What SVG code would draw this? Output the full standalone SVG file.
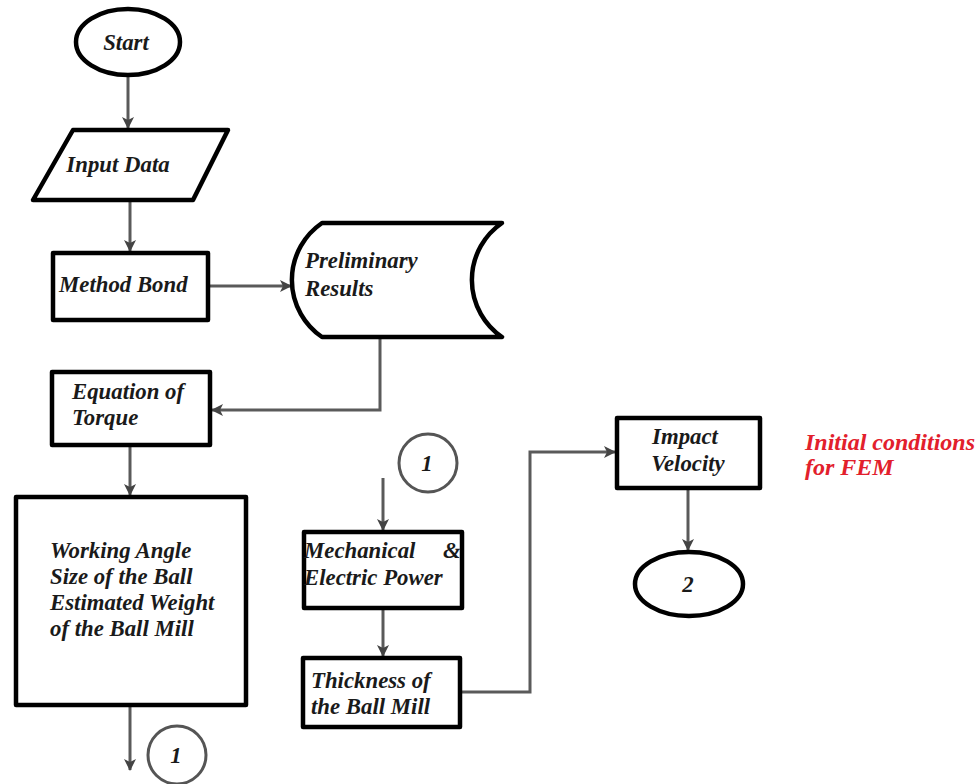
<svg xmlns="http://www.w3.org/2000/svg" width="979" height="784" viewBox="0 0 979 784">
<defs>
<style>
.node{fill:#fff;stroke:#000;stroke-width:4.5;stroke-linejoin:round}
.conn{fill:none;stroke:#5a5a5a;stroke-width:3}
.t{font-family:"Liberation Serif","Times New Roman",serif;font-style:italic;font-weight:bold;font-size:22.8px;fill:#1a1a1a}
.red{font-family:"Liberation Serif","Times New Roman",serif;font-style:italic;font-weight:bold;font-size:24px;fill:#e2202c}
</style>
<marker id="arr" viewBox="0 0 12 12" refX="11" refY="6" markerWidth="12" markerHeight="12" markerUnits="userSpaceOnUse" orient="auto">
<path d="M0,0 L12,6 L0,12 L3,6 Z" fill="#444"/>
</marker>
</defs>
<rect width="979" height="784" fill="#fff"/>
<g id="connectors">
<line class="conn" x1="128" y1="75" x2="128" y2="128" marker-end="url(#arr)"/>
<line class="conn" x1="130" y1="200" x2="130" y2="251" marker-end="url(#arr)"/>
<line class="conn" x1="208" y1="286" x2="291" y2="286" marker-end="url(#arr)"/>
<polyline class="conn" points="380,337 380,410 212,410" marker-end="url(#arr)"/>
<line class="conn" x1="130" y1="446" x2="130" y2="495" marker-end="url(#arr)"/>
<line class="conn" x1="130" y1="706" x2="130" y2="770" marker-end="url(#arr)"/>
<line class="conn" x1="383" y1="478" x2="383" y2="530" marker-end="url(#arr)"/>
<line class="conn" x1="383" y1="609" x2="383" y2="656" marker-end="url(#arr)"/>
<polyline class="conn" points="461,692 530,692 530,452 615,452" marker-end="url(#arr)"/>
<line class="conn" x1="688" y1="489" x2="688" y2="550" marker-end="url(#arr)"/>
</g>
<g id="start">
<ellipse class="node" cx="128" cy="42" rx="52" ry="33"/>
<text class="t" x="126" y="50" text-anchor="middle">Start</text>
</g>
<g id="input-data">
<polygon class="node" points="73,130 228,130 193,200 33,200"/>
<text class="t" x="118" y="172" text-anchor="middle">Input Data</text>
</g>
<g id="method-bond">
<rect class="node" x="53" y="253" width="155" height="67"/>
<text class="t" x="59" y="292">Method Bond</text>
</g>
<g id="preliminary-results">
<path class="node" d="M322,223 L502,223 A69,69 0 0 0 502,337 L322,337 A69,69 0 0 1 322,223 Z"/>
<text class="t" x="305" y="268">Preliminary</text>
<text class="t" x="305" y="296">Results</text>
</g>
<g id="equation-torque">
<rect class="node" x="52" y="372" width="158" height="73"/>
<text class="t" x="72" y="399">Equation of</text>
<text class="t" x="72" y="425">Torque</text>
</g>
<g id="working-angle">
<rect class="node" x="16" y="497" width="230" height="208"/>
<text class="t" x="50" y="558">Working Angle</text>
<text class="t" x="50" y="584">Size of the Ball</text>
<text class="t" x="50" y="610">Estimated Weight</text>
<text class="t" x="50" y="636">of the Ball Mill</text>
</g>
<g id="connector-1-bottom">
<circle cx="177" cy="755" r="29" fill="#fff" stroke="#555" stroke-width="3"/>
<text class="t" x="176" y="763" text-anchor="middle">1</text>
</g>
<g id="connector-1-top">
<circle cx="428" cy="463" r="29" fill="#fff" stroke="#555" stroke-width="3"/>
<text class="t" x="427" y="471" text-anchor="middle">1</text>
</g>
<g id="mechanical-power">
<rect class="node" x="304" y="532" width="158" height="76"/>
<text class="t" x="304" y="558">Mechanical</text>
<text class="t" x="443" y="558">&amp;</text>
<text class="t" x="304" y="585">Electric Power</text>
</g>
<g id="thickness">
<rect class="node" x="303" y="658" width="157" height="69"/>
<text class="t" x="311" y="688">Thickness of</text>
<text class="t" x="311" y="714">the Ball Mill</text>
</g>
<g id="impact-velocity">
<rect class="node" x="617" y="418" width="143" height="70"/>
<text class="t" x="685" y="444" text-anchor="middle">Impact</text>
<text class="t" x="688" y="471" text-anchor="middle">Velocity</text>
</g>
<g id="end-2">
<ellipse class="node" cx="689" cy="584" rx="54" ry="32"/>
<text class="t" x="688" y="592" text-anchor="middle">2</text>
</g>
<g id="note">
<text class="red" x="805" y="450">Initial conditions</text>
<text class="red" x="805" y="475">for FEM</text>
</g>
</svg>
